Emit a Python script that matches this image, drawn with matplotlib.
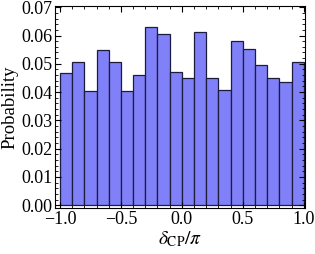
import matplotlib
matplotlib.use("Agg")
import matplotlib.pyplot as plt
from matplotlib.ticker import MultipleLocator
import numpy as np

# bin edges and probabilities
bin_edges = np.round(np.arange(-1.0, 1.0001, 0.1), 2)
probs = [0.0469, 0.0508, 0.0405, 0.0547, 0.0508, 0.0405, 0.0462, 0.0631,
         0.0604, 0.0470, 0.0451, 0.0611, 0.0451, 0.0406, 0.0582, 0.0554,
         0.0497, 0.0451, 0.0434, 0.0508]

plt.rcParams['font.family'] = ['Liberation Serif', 'DejaVu Serif']
plt.rcParams['mathtext.fontset'] = 'stix'

fig = plt.figure(figsize=(3.15, 2.54), dpi=100)
ax = fig.add_axes([0.175, 0.181, 0.793, 0.795])

ax.bar(bin_edges[:-1], probs, width=np.diff(bin_edges), align='edge',
       color='#8080f8', edgecolor='#1c1c3c', linewidth=0.9)

ax.set_xlim(-1.04, 1.01)
ax.set_ylim(-0.001, 0.0704)
ax.xaxis.set_major_locator(MultipleLocator(0.5))
ax.xaxis.set_minor_locator(MultipleLocator(0.1))
ax.yaxis.set_major_locator(MultipleLocator(0.01))
ax.yaxis.set_minor_locator(MultipleLocator(0.002))
ax.xaxis.set_major_formatter(plt.FuncFormatter(lambda v, p: f"{v:.1f}".replace('-', '\u2212')))
ax.yaxis.set_major_formatter(plt.FuncFormatter(lambda v, p: f"{v:.2f}"))
ax.tick_params(which='both', direction='in', top=True, right=True, labelsize=13, pad=2)
ax.tick_params(which='major', length=4, width=0.8)
ax.tick_params(which='minor', length=2, width=0.6)
for s in ax.spines.values():
    s.set_linewidth(0.8)

ax.set_xlabel(r"$\delta_{\rm CP}/\pi$", fontsize=14, labelpad=1)
ax.set_ylabel("Probability", fontsize=13.5, labelpad=2)

fig.savefig("out.png", dpi=100)
